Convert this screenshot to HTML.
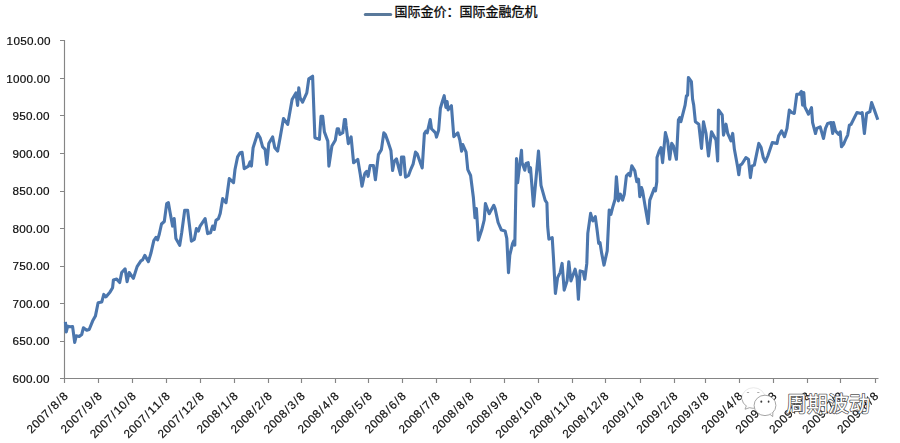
<!DOCTYPE html>
<html lang="zh"><head><meta charset="utf-8"><title>国际金价：国际金融危机</title>
<style>html,body{margin:0;padding:0;background:#fff;}body{width:900px;height:443px;overflow:hidden;font-family:"Liberation Sans",sans-serif;}svg{display:block;}text{font-family:"Liberation Sans",sans-serif;fill:#0c0c0c;stroke:#0c0c0c;stroke-width:0.2px;}.t{filter:grayscale(1);}</style></head><body>
<svg width="900" height="443" viewBox="0 0 900 443">
<rect width="900" height="443" fill="#fff"/>
<path d="M64.5 40.0V382.9M64.5 378.5H878.5M60.00 40.50H64.50M60.00 78.50H64.50M60.00 115.50H64.50M60.00 153.50H64.50M60.00 191.50H64.50M60.00 228.50H64.50M60.00 266.50H64.50M60.00 303.50H64.50M60.00 341.50H64.50M60.00 378.50H64.50M64.5 378.5V382.9M98.5 378.5V382.9M132.5 378.5V382.9M166.5 378.5V382.9M200.5 378.5V382.9M234.5 378.5V382.9M268.5 378.5V382.9M301.5 378.5V382.9M335.5 378.5V382.9M368.5 378.5V382.9M402.5 378.5V382.9M436.5 378.5V382.9M470.5 378.5V382.9M504.5 378.5V382.9M538.5 378.5V382.9M572.5 378.5V382.9M605.5 378.5V382.9M640.5 378.5V382.9M674.5 378.5V382.9M705.5 378.5V382.9M739.5 378.5V382.9M773.5 378.5V382.9M807.5 378.5V382.9M840.5 378.5V382.9M875.5 378.5V382.9" fill="none" stroke="#858585" stroke-width="1.15"/>
<g class="t" font-size="11.7">
<text y="45.02" x="6.60 13.40 20.19 26.99 33.70 37.16 43.95">1050.00</text>
<text y="82.52" x="6.20 13.00 19.79 26.59 33.30 36.76 43.55">1000.00</text>
<text y="120.02" x="12.40 19.19 25.99 32.70 36.16 42.95">950.00</text>
<text y="157.52" x="12.40 19.19 25.99 32.70 36.16 42.95">900.00</text>
<text y="195.02" x="12.40 19.19 25.99 32.70 36.16 42.95">850.00</text>
<text y="232.52" x="12.40 19.19 25.99 32.70 36.16 42.95">800.00</text>
<text y="270.02" x="12.40 19.19 25.99 32.70 36.16 42.95">750.00</text>
<text y="307.52" x="12.40 19.19 25.99 32.70 36.16 42.95">700.00</text>
<text y="345.02" x="12.40 19.19 25.99 32.70 36.16 42.95">650.00</text>
<text y="382.52" x="12.40 19.19 25.99 32.70 36.16 42.95">600.00</text>
</g>
<g class="t" font-size="11.7">
<text transform="translate(68.9 396.6) rotate(-45)" x="-52.74 -45.70 -38.65 -31.60 -23.77 -19.19 -11.36 -6.78">2007/8/8</text>
<text transform="translate(102.9 396.6) rotate(-45)" x="-52.74 -45.70 -38.65 -31.60 -23.77 -19.19 -11.36 -6.78">2007/9/8</text>
<text transform="translate(136.9 396.6) rotate(-45)" x="-59.79 -52.74 -45.70 -38.65 -30.82 -26.24 -19.19 -11.36 -6.78">2007/10/8</text>
<text transform="translate(170.8 396.6) rotate(-45)" x="-59.79 -52.74 -45.70 -38.65 -30.82 -26.24 -19.19 -11.36 -6.78">2007/11/8</text>
<text transform="translate(204.8 396.6) rotate(-45)" x="-59.79 -52.74 -45.70 -38.65 -30.82 -26.24 -19.19 -11.36 -6.78">2007/12/8</text>
<text transform="translate(238.8 396.6) rotate(-45)" x="-52.74 -45.70 -38.65 -31.60 -23.77 -19.19 -11.36 -6.78">2008/1/8</text>
<text transform="translate(272.8 396.6) rotate(-45)" x="-52.74 -45.70 -38.65 -31.60 -23.77 -19.19 -11.36 -6.78">2008/2/8</text>
<text transform="translate(305.8 396.6) rotate(-45)" x="-52.74 -45.70 -38.65 -31.60 -23.77 -19.19 -11.36 -6.78">2008/3/8</text>
<text transform="translate(339.7 396.6) rotate(-45)" x="-52.74 -45.70 -38.65 -31.60 -23.77 -19.19 -11.36 -6.78">2008/4/8</text>
<text transform="translate(372.7 396.6) rotate(-45)" x="-52.74 -45.70 -38.65 -31.60 -23.77 -19.19 -11.36 -6.78">2008/5/8</text>
<text transform="translate(406.7 396.6) rotate(-45)" x="-52.74 -45.70 -38.65 -31.60 -23.77 -19.19 -11.36 -6.78">2008/6/8</text>
<text transform="translate(440.7 396.6) rotate(-45)" x="-52.74 -45.70 -38.65 -31.60 -23.77 -19.19 -11.36 -6.78">2008/7/8</text>
<text transform="translate(474.6 396.6) rotate(-45)" x="-52.74 -45.70 -38.65 -31.60 -23.77 -19.19 -11.36 -6.78">2008/8/8</text>
<text transform="translate(508.6 396.6) rotate(-45)" x="-52.74 -45.70 -38.65 -31.60 -23.77 -19.19 -11.36 -6.78">2008/9/8</text>
<text transform="translate(542.6 396.6) rotate(-45)" x="-59.79 -52.74 -45.70 -38.65 -30.82 -26.24 -19.19 -11.36 -6.78">2008/10/8</text>
<text transform="translate(576.6 396.6) rotate(-45)" x="-59.79 -52.74 -45.70 -38.65 -30.82 -26.24 -19.19 -11.36 -6.78">2008/11/8</text>
<text transform="translate(609.6 396.6) rotate(-45)" x="-59.79 -52.74 -45.70 -38.65 -30.82 -26.24 -19.19 -11.36 -6.78">2008/12/8</text>
<text transform="translate(644.5 396.6) rotate(-45)" x="-52.74 -45.70 -38.65 -31.60 -23.77 -19.19 -11.36 -6.78">2009/1/8</text>
<text transform="translate(678.5 396.6) rotate(-45)" x="-52.74 -45.70 -38.65 -31.60 -23.77 -19.19 -11.36 -6.78">2009/2/8</text>
<text transform="translate(709.5 396.6) rotate(-45)" x="-52.74 -45.70 -38.65 -31.60 -23.77 -19.19 -11.36 -6.78">2009/3/8</text>
<text transform="translate(743.5 396.6) rotate(-45)" x="-52.74 -45.70 -38.65 -31.60 -23.77 -19.19 -11.36 -6.78">2009/4/8</text>
<text transform="translate(777.5 396.6) rotate(-45)" x="-52.74 -45.70 -38.65 -31.60 -23.77 -19.19 -11.36 -6.78">2009/5/8</text>
<text transform="translate(811.4 396.6) rotate(-45)" x="-52.74 -45.70 -38.65 -31.60 -23.77 -19.19 -11.36 -6.78">2009/6/8</text>
<text transform="translate(844.4 396.6) rotate(-45)" x="-52.74 -45.70 -38.65 -31.60 -23.77 -19.19 -11.36 -6.78">2009/7/8</text>
<text transform="translate(879.4 396.6) rotate(-45)" x="-52.74 -45.70 -38.65 -31.60 -23.77 -19.19 -11.36 -6.78">2009/8/8</text>
</g>
<path d="M65.4 321.9 66.3 332.0 67.7 326.2 70.0 326.8 72.6 326.6 74.7 342.5 76.2 335.8 79.2 336.5 81.7 334.5 83.4 327.8 86.7 330.3 89.2 329.5 92.6 321.1 95.4 316.1 98.1 302.7 101.8 301.9 103.8 294.4 105.9 296.9 110.1 291.9 112.6 287.7 113.4 280.0 116.7 279.1 119.7 282.5 121.7 272.5 125.1 268.8 127.1 281.7 129.2 272.5 133.4 278.3 137.1 266.6 140.9 260.8 142.6 259.9 144.8 255.4 148.4 261.6 150.9 253.3 153.8 240.7 156.0 237.4 157.6 239.9 159.3 234.0 161.5 224.0 164.3 221.5 166.7 203.6 168.4 202.7 170.0 211.9 172.6 226.1 174.2 218.6 175.9 238.6 179.7 245.3 181.7 232.8 184.7 210.2 187.6 210.2 191.4 241.1 194.3 239.5 196.4 228.6 198.4 231.1 200.1 226.1 205.1 218.6 207.6 233.6 210.5 232.8 212.6 226.1 214.3 229.5 216.0 220.3 218.5 218.6 220.2 213.6 222.7 198.6 226.0 202.7 229.3 178.5 233.5 182.7 235.0 169.5 237.6 156.9 240.1 152.7 242.1 152.4 244.2 168.6 248.4 166.1 250.1 161.9 251.4 166.1 253.1 147.7 257.6 133.5 260.1 137.7 262.6 146.9 265.1 149.4 266.8 164.4 268.8 143.6 272.6 136.9 274.8 147.7 277.6 151.1 280.1 137.7 283.5 118.5 287.7 124.4 292.1 99.6 295.9 92.9 297.6 105.4 298.8 87.9 300.1 97.9 302.6 102.1 306.8 92.9 308.8 78.7 312.6 76.2 314.9 137.7 319.4 139.4 321.0 116.3 322.7 116.3 324.4 131.9 327.8 141.1 328.9 166.1 331.9 146.1 335.3 140.2 337.2 128.8 338.5 128.8 339.9 134.4 342.8 132.7 344.4 119.6 345.5 119.6 346.1 126.0 348.3 143.6 351.1 136.9 353.6 162.8 357.8 159.4 360.3 174.5 362.0 186.2 364.5 174.5 365.1 173.0 366.7 171.3 368.1 176.3 370.1 165.5 373.4 165.5 375.4 179.7 378.4 154.6 381.4 149.6 383.8 132.9 385.4 134.6 388.4 142.9 390.9 150.4 392.6 170.5 394.3 161.3 396.5 158.8 398.5 167.1 400.5 174.6 401.5 157.1 403.8 157.1 405.5 177.1 408.5 175.5 411.0 168.8 413.2 163.8 415.5 152.1 417.2 153.8 419.8 161.3 422.2 168.0 424.4 133.7 426.0 131.2 427.2 132.9 430.2 119.5 431.5 128.7 435.5 132.9 436.5 137.1 438.6 130.4 440.4 108.2 442.6 100.7 444.2 95.7 445.9 107.4 447.1 101.5 448.1 109.9 451.4 105.7 453.8 136.6 457.8 132.9 459.9 140.4 461.6 151.3 462.8 144.6 466.1 152.1 467.8 169.6 470.6 175.5 473.4 197.8 475.0 217.8 476.4 208.6 478.4 240.1 481.7 230.1 484.2 220.0 485.4 203.6 489.2 213.7 493.8 205.3 495.1 208.6 498.1 222.5 501.4 230.1 505.1 230.9 506.8 238.4 508.5 272.7 509.8 255.1 512.6 243.4 513.8 240.9 514.8 245.1 516.5 158.5 517.6 182.7 521.5 150.2 522.1 162.7 524.8 170.2 526.0 163.5 528.2 162.7 529.3 171.9 530.5 167.7 533.5 206.1 538.5 151.0 541.0 185.3 545.2 200.3 546.9 202.8 547.7 226.7 548.9 239.2 552.2 237.6 553.4 256.7 555.4 293.5 557.6 277.6 560.1 272.6 562.1 263.4 564.2 290.1 567.1 280.9 568.8 261.7 570.9 280.9 575.1 269.2 577.1 278.4 578.4 299.3 580.1 270.9 583.1 271.7 584.8 279.3 586.8 263.4 587.8 233.4 590.6 213.4 592.8 220.9 595.3 216.7 597.0 229.2 598.7 243.4 600.0 242.6 601.7 253.4 604.0 265.1 607.2 250.9 609.2 210.1 610.9 214.3 612.6 207.6 615.1 199.3 616.4 176.7 618.4 200.9 620.4 194.2 622.6 200.1 624.3 194.2 626.4 175.9 628.8 173.4 630.1 175.9 631.8 165.8 634.8 170.9 636.8 181.7 638.5 179.2 639.8 196.7 641.5 187.6 642.6 190.9 645.5 208.4 648.1 223.5 649.8 200.1 654.3 188.4 655.5 190.9 656.8 181.7 657.0 157.6 659.2 150.9 660.9 147.6 662.6 162.6 665.4 132.6 667.6 140.9 669.7 159.3 671.7 143.4 673.4 145.9 676.4 159.3 678.4 120.0 679.8 117.5 680.9 121.7 685.1 105.1 686.4 95.9 687.6 95.1 688.4 77.5 691.4 81.7 692.6 99.3 693.7 105.1 695.4 121.8 698.8 124.3 701.5 148.4 703.5 121.7 706.0 133.4 708.5 156.0 711.5 131.7 716.0 140.1 717.7 161.0 718.5 110.0 722.2 115.0 723.5 135.1 726.0 124.2 727.7 133.4 731.0 140.9 732.7 133.4 734.4 149.3 737.6 166.7 738.8 174.8 740.1 165.1 741.8 164.2 745.9 157.6 748.4 159.2 750.4 177.6 752.1 165.9 754.3 165.1 758.8 143.4 761.1 147.6 763.3 157.6 765.3 161.8 767.8 156.0 772.3 142.6 777.0 143.4 778.6 135.9 781.6 130.9 784.5 136.7 787.0 128.4 789.3 110.1 791.8 112.6 794.3 113.4 796.8 94.2 799.3 94.2 801.4 91.4 802.6 105.1 803.8 92.5 804.8 106.7 808.5 114.2 811.5 107.6 812.6 122.6 815.5 133.5 816.8 128.4 820.2 126.8 823.5 138.5 825.5 128.4 827.7 123.4 831.0 122.6 832.7 133.5 833.5 122.6 835.5 130.9 838.5 134.3 840.2 131.8 841.5 146.8 843.5 144.3 846.0 138.5 847.7 135.1 849.4 125.1 851.1 124.3 856.9 112.6 861.1 113.4 862.2 112.6 864.4 133.5 866.6 113.4 869.9 111.7 871.6 102.6 874.4 110.1 877.8 119.8" fill="none" stroke="#4b76ad" stroke-width="3.1" stroke-linejoin="round" stroke-linecap="butt"/>
<path d="M365.3 14.4H390.7" stroke="#59799b" stroke-width="3" stroke-linecap="round" fill="none"/>
<g role="img" aria-label="国际金价：国际金融危机"><text x="394.6" y="16.4" font-size="13" style="font-family:'Liberation Sans','Noto Sans CJK SC',sans-serif;fill:#0a0a0a;stroke:#0a0a0a;stroke-width:0.3px;">国际金价：国际金融危机</text></g>
<g id="wm" role="img" aria-label="周期波动">
<g fill="#fff" stroke="#e0e0e0" stroke-width="0.7"><ellipse cx="753.5" cy="398" rx="11.6" ry="10.3"/><path d="M746.3 405.6L745 409.2L749.6 407.6"/></g>
<path d="M742 399.5A11.6 10.3 0 0 0 746.3 406L745 409.2L749.6 407.7A11.6 10.3 0 0 0 755 408.2" fill="none" stroke="#9d9d9d" stroke-width="0.8"/>
<g fill="#fff" stroke="#8f8f8f" stroke-width="0.8"><ellipse cx="765" cy="405.4" rx="10.9" ry="10.2"/><path d="M769.8 414.2L772.7 416.6L772.9 412.4"/></g>
<path d="M746.9 392.5h2.2M757.2 392.5h2.2" stroke="#8a8a8a" stroke-width="0.7" fill="none"/>
<g fill="#3c3c3c"><ellipse cx="761.3" cy="401.7" rx="1" ry="1.1"/><ellipse cx="768.6" cy="401.7" rx="0.9" ry="1.1"/></g>
<text x="786" y="411.3" font-size="21" style="font-family:'Liberation Sans','Noto Sans CJK SC',sans-serif;fill:#fff;stroke:#555;stroke-width:1.5px;stroke-linejoin:round;paint-order:stroke fill;">周期波动</text>
</g>
</svg></body></html>
